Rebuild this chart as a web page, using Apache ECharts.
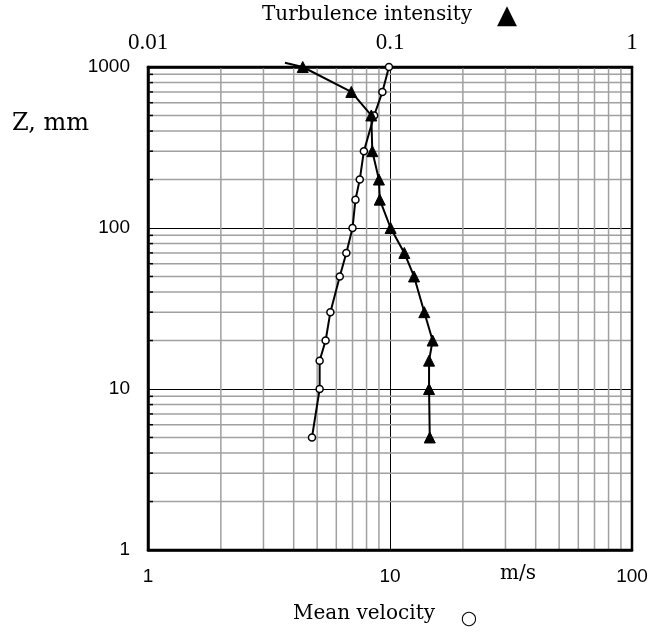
<!DOCTYPE html>
<html>
<head>
<meta charset="utf-8">
<script src="https://cdn.jsdelivr.net/npm/echarts@6/dist/echarts.min.js"></script>
<style>html,body{margin:0;padding:0;background:#fff;}#c{width:651px;height:635px;}</style>
</head>
<body>
<div id="c"></div>
<script>
// Heights above floor, mm
var zVel = [1000, 700, 500, 300, 200, 150, 100, 70, 50, 30, 20, 15, 10, 5];
// Mean velocity, m/s
var meanVelocity = [9.9, 9.3, 8.6, 7.8, 7.5, 7.2, 7.0, 6.6, 6.2, 5.67, 5.42, 5.12, 5.12, 4.76];
// Heights for turbulence intensity (first value lies just beyond the plotted range)
var zTI = [1063, 1000, 700, 500, 300, 200, 150, 100, 70, 50, 30, 20, 15, 10, 5];
// Turbulence intensity
var turbIntensity = [0.0368, 0.0436, 0.0692, 0.0837, 0.0845, 0.090, 0.0907, 0.1006, 0.1146, 0.1257, 0.1386, 0.150, 0.145, 0.145, 0.146];
// Minor gridline values
var zMinor = [2,3,4,5,6,7,8,9,20,30,40,50,60,70,80,90,200,300,400,500,600,700,800,900];
var vMinor = [2,3,4,5,6,7,8,9,20,30,40,50,60,70,80,90];

var chart = echarts.init(document.getElementById('c'), null, {renderer: 'canvas'});
var sans = '"Liberation Sans", Arial, sans-serif';
function plain(v) { return String(+(+v).toPrecision(3)); }

var option = {
  animation: false,
  backgroundColor: '#fff',
  grid: {left: 148, right: 19, top: 67, bottom: 85, containLabel: false, outerBoundsMode: 'none',
         show: true, borderColor: '#000', borderWidth: 2.5, backgroundColor: 'transparent', z: 5},
  xAxis: [
    {type: 'log', logBase: 10, min: 1, max: 100, position: 'bottom',
     axisLine: {show: true, lineStyle: {color: '#000', width: 2.5}},
     axisTick: {show: false},
     axisLabel: {color: '#000', fontFamily: sans, fontSize: 19, margin: 17, formatter: plain},
     splitLine: {show: true, lineStyle: {color: '#000', width: 1}}},
    {type: 'log', logBase: 10, min: 0.01, max: 1, position: 'top',
     axisLine: {show: true, lineStyle: {color: '#000', width: 2.5}},
     axisTick: {show: false},
     axisLabel: {color: '#000', fontFamily: 'Liberation Serif', fontSize: 23, margin: 13, formatter: plain},
     splitLine: {show: false}}
  ],
  yAxis: [
    {type: 'log', logBase: 10, min: 1, max: 1000,
     axisLine: {show: true, lineStyle: {color: '#000', width: 2.5}},
     axisTick: {show: false},
     axisLabel: {color: '#000', fontFamily: sans, fontSize: 19, margin: 18, formatter: plain},
     splitLine: {show: true, lineStyle: {color: '#000', width: 1}}}
  ],
  graphic: [
    {type: 'text', x: 262, y: 15, style: {text: 'Turbulence intensity', font: '20px "DejaVu Serif"', fill: '#000', textAlign: 'left', textVerticalAlign: 'middle'}},
    {type: 'text', x: 507, y: 16, style: {text: '▲', font: '26px "DejaVu Sans"', fill: '#000', textAlign: 'center', textVerticalAlign: 'middle'}},
    {type: 'text', x: 12, y: 124, style: {text: 'Z, mm', font: '24px "DejaVu Serif"', fill: '#000', textAlign: 'left', textVerticalAlign: 'middle'}},
    {type: 'text', x: 500, y: 574, style: {text: 'm/s', font: '20px "DejaVu Serif"', fill: '#000', textAlign: 'left', textVerticalAlign: 'middle'}},
    {type: 'text', x: 293, y: 614, style: {text: 'Mean velocity', font: '20px "DejaVu Serif"', fill: '#000', textAlign: 'left', textVerticalAlign: 'middle'}},
    {type: 'text', x: 469, y: 619, style: {text: '○', font: '19px "DejaVu Sans"', fill: '#000', textAlign: 'center', textVerticalAlign: 'middle'}}
  ],
  series: [
    {type: 'custom', xAxisIndex: 0, yAxisIndex: 0, silent: true, z: 1,
     data: zMinor.map(function (v) { return [1, v]; }),
     renderItem: function (params, api) {
       var a = api.coord([1, api.value(1)]);
       var b = api.coord([100, api.value(1)]);
       return {type: 'group', children: [
         {type: 'line', shape: {x1: a[0], y1: a[1], x2: b[0], y2: b[1]}, style: {stroke: '#a0a0a0', lineWidth: 1.5}},
         {type: 'line', shape: {x1: a[0], y1: a[1], x2: a[0] + 5, y2: a[1]}, style: {stroke: '#000', lineWidth: 1.5}}
       ]};
     }},
    {type: 'custom', xAxisIndex: 0, yAxisIndex: 0, silent: true, z: 1,
     data: vMinor.map(function (v) { return [v, 1]; }),
     renderItem: function (params, api) {
       var a = api.coord([api.value(0), 1]);
       var b = api.coord([api.value(0), 1000]);
       return {type: 'line', shape: {x1: a[0], y1: a[1], x2: b[0], y2: b[1]}, style: {stroke: '#a0a0a0', lineWidth: 1.5}};
     }},
    {name: 'Mean velocity', type: 'line', xAxisIndex: 0, yAxisIndex: 0, z: 10,
     data: meanVelocity.map(function (v, i) { return [v, zVel[i]]; }),
     symbol: 'circle', symbolSize: 7, showAllSymbol: true,
     lineStyle: {color: '#000', width: 2},
     itemStyle: {color: '#fff', borderColor: '#000', borderWidth: 1.5}},
    {name: 'Turbulence intensity', type: 'line', xAxisIndex: 1, yAxisIndex: 0, z: 10, clip: false,
     data: turbIntensity.map(function (v, i) { return [v, zTI[i]]; }),
     symbol: function (val) { return val[1] > 1000 ? 'none' : 'triangle'; },
     symbolSize: 11, showAllSymbol: true,
     lineStyle: {color: '#000', width: 2},
     itemStyle: {color: '#000', borderColor: '#000'}}
  ]
};
chart.setOption(option);
</script>
</body>
</html>
